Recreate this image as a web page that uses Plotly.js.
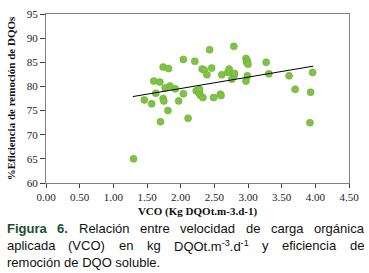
<!DOCTYPE html>
<html>
<head>
<meta charset="utf-8">
<script src="https://cdn.plot.ly/plotly-3.0.1.min.js"></script>
<style>
html,body{margin:0;padding:0;background:#fff;}
#chart{width:369px;height:273px;}
</style>
</head>
<body>
<div id="chart"></div>
<script>
// Data
const vco = [1.30,1.46,1.57,1.60,1.63,1.69,1.70,1.74,1.74,1.75,1.77,1.81,1.82,1.84,1.92,1.97,2.04,2.04,
  2.11,2.21,2.23,2.27,2.28,2.29,2.33,2.32,2.35,2.39,2.43,2.46,2.49,2.59,2.60,2.61,2.70,2.72,2.76,2.79,2.80,2.79,
  2.97,2.97,2.98,2.99,3.00,2.99,3.27,3.31,3.61,3.70,3.93,3.96,3.92];
const eficiencia = [65.0,77.2,76.4,81.1,78.6,80.9,72.7,84.0,77.5,77.0,79.7,75.0,83.7,80.1,79.5,77.0,85.6,78.5,
  73.4,85.2,79.1,78.7,79.4,78.2,77.7,83.6,83.4,82.4,87.6,83.8,77.7,78.4,78.1,82.4,82.9,83.6,81.5,82.2,82.7,88.3,
  81.1,85.8,85.0,85.3,84.6,82.2,85.0,82.6,82.2,79.4,78.8,82.9,72.5];
const trendX = [1.29, 3.97];
const trendY = [77.9, 84.2];
const xTicks = [0,0.5,1,1.5,2,2.5,3,3.5,4,4.5];
const xTickText = ["0.00","0.50","1.00","1.50","2.00","2.50","3.00","3.50","4.00","4.50"];
const yTicks = [60,65,70,75,80,85,90,95];

// Caption lines: each word is a list of segments [text, style] (b = bold green, s = superscript)
const captionLine1 = [[["Figura","b"]],[["6.","b"]],[["Relación"]],[["entre"]],[["velocidad"]],[["de"]],[["carga"]],[["orgánica"]]];
const captionLine2 = [[["aplicada"]],[["(VCO)"]],[["en"]],[["kg"]],[["DQOt.m"],["-3","s"],[".d"],["-1","s"]],[["y"]],[["eficiencia"]],[["de"]]];
const captionLine3 = "remoción de DQO soluble.";

const W = 369, H = 273;
const L = 45.5, R = 349, T = 14.3, B = 182.7;
const px = v => (v - L) / (R - L);
const py = v => (B - v) / (B - T);

const serif = "'Liberation Serif', 'Times New Roman', serif";
const sans = "'Liberation Sans', Arial, sans-serif";
const capSize = 13;

const cv = document.createElement('canvas').getContext('2d');
function segWidth(seg) {
  const st = seg[1] || '';
  const size = st === 's' ? capSize * 0.7 : capSize;
  cv.font = (st === 'b' ? 'bold ' : '') + size + "px 'Liberation Sans', Arial, sans-serif";
  return cv.measureText(seg[0]).width;
}
function segHtml(seg) {
  const st = seg[1] || '';
  if (st === 'b') return '<b><span style="color:#1d4d2d">' + seg[0] + '</span></b>';
  if (st === 's') return '<sup>' + seg[0] + '</sup>';
  return seg[0];
}
function justify(words, yPix, x0, x1) {
  const widths = words.map(w => w.reduce((a, s) => a + segWidth(s), 0));
  const total = widths.reduce((a, b) => a + b, 0);
  const gap = (x1 - x0 - total) / (words.length - 1);
  let x = x0;
  return words.map((w, i) => {
    const ann = {xref: 'paper', yref: 'paper', x: px(x), y: py(yPix), xanchor: 'left', yanchor: 'middle',
      showarrow: false, text: w.map(segHtml).join(''), font: {family: sans, size: capSize, color: '#111'}};
    x += widths[i] + gap;
    return ann;
  });
}

const traces = [
  {x: vco, y: eficiencia, type: 'scatter', mode: 'markers',
   marker: {color: '#80c342', size: 7, line: {color: '#6aad35', width: 0.6}},
   hoverinfo: 'skip', showlegend: false},
  {x: trendX, y: trendY, type: 'scatter', mode: 'lines',
   line: {color: '#000', width: 1}, hoverinfo: 'skip', showlegend: false}
];

const annotations = [].concat(
  justify(captionLine1, 228.5, 4, 362),
  justify(captionLine2, 245, 4, 362),
  [{xref: 'paper', yref: 'paper', x: px(4), y: py(261.5), xanchor: 'left', yanchor: 'middle', showarrow: false,
    text: captionLine3, font: {family: sans, size: capSize, color: '#111'}}]
);

const layout = {
  width: W, height: H,
  margin: {l: L, r: W - R, t: T, b: H - B},
  paper_bgcolor: '#fff', plot_bgcolor: '#fff',
  showlegend: false,
  xaxis: {
    range: [0, 4.5], tickvals: xTicks, ticktext: xTickText,
    showgrid: false, zeroline: false,
    showline: true, linecolor: '#808080', linewidth: 1, mirror: true,
    ticks: 'outside', ticklen: 4, tickcolor: '#404040', tickwidth: 1,
    tickfont: {family: serif, size: 11, color: '#222'},
    title: {text: '<b>VCO (Kg DQOt.m-3.d-1)</b>', font: {family: serif, size: 11, color: '#111'}, standoff: 5}
  },
  yaxis: {
    range: [60, 95], tickvals: yTicks,
    showgrid: false, zeroline: false,
    showline: true, linecolor: '#808080', linewidth: 1, mirror: true,
    ticks: 'outside', ticklen: 5, tickcolor: '#404040', tickwidth: 1,
    tickfont: {family: serif, size: 11, color: '#222'},
    title: {text: '<b>%Eficiencia de remoción de DQOs</b>', font: {family: serif, size: 11, color: '#111'}, standoff: 8}
  },
  annotations: annotations
};

Plotly.newPlot('chart', traces, layout, {staticPlot: true, displayModeBar: false});
</script>
</body>
</html>
